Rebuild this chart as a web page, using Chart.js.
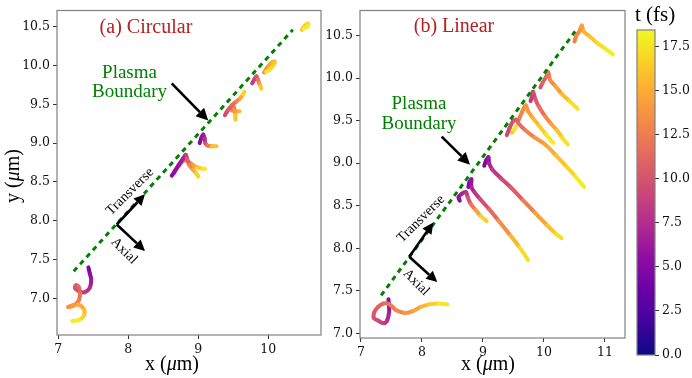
<!DOCTYPE html>
<html lang="en">
<head>
  <meta charset="UTF-8" />
  <title>Electron trajectories at the plasma boundary</title>
  <script src="https://cdn.jsdelivr.net/npm/chart.js"></script>
  <style>
    html, body { margin: 0; padding: 0; background: #fff; }
    #wrap { position: relative; width: 692px; height: 378px; }
    #wrap canvas { position: absolute; left: 0; top: 0; }
  </style>
</head>
<body>
<div id="wrap">
  <canvas id="circChart" width="692" height="378"></canvas>
  <canvas id="linChart" width="692" height="378"></canvas>
  <canvas id="cbarChart" width="692" height="378"></canvas>
</div>

<script>
  // ---- data: each trajectory is a list of [x (um), y (um), t (fs)] ----

  // (a) circular polarisation
  const circ1 = [[7.43,7.40,4.5],[7.45,7.32,5],[7.47,7.24,6],[7.45,7.14,7],[7.38,7.08,8],[7.30,7.09,9],
                 [7.24,7.13,9.8],[7.25,7.17,10.3],[7.29,7.15,10.8],[7.31,7.06,11.5],[7.29,6.97,12.5],[7.22,6.91,13],
                 [7.14,6.89,13.5],[7.20,6.91,14],[7.29,6.92,14.5],[7.37,6.85,15.5],[7.36,6.77,16.5],[7.29,6.72,17.5],[7.20,6.71,18.3]];
  const circ2a = [[8.62,8.58,5],[8.66,8.63,5.5],[8.72,8.72,6],[8.78,8.80,6.5],[8.82,8.85,7.5],[8.84,8.80,9.5],
                  [8.87,8.72,12],[8.92,8.66,14],[8.97,8.61,16],[9.00,8.57,18]];
  const circ2b = [[8.66,8.64,9],[8.73,8.72,10],[8.80,8.78,11],[8.86,8.76,12.5],[8.92,8.72,14],[8.98,8.69,15.5],
                  [9.06,8.67,17.5],[9.10,8.67,18.3]];
  const circ3 = [[9.02,9.00,5],[9.04,9.06,5.5],[9.07,9.11,6],[9.09,9.06,7],[9.10,9.00,8.5],[9.13,8.97,11],
                 [9.19,8.96,14],[9.26,8.96,18]];
  const circ4a = [[9.38,9.36,9],[9.42,9.42,10],[9.48,9.49,11],[9.55,9.54,12.5],[9.60,9.58,14],[9.64,9.63,16],[9.66,9.66,18]];
  const circ4b = [[9.45,9.45,11],[9.50,9.48,12],[9.52,9.42,13.5],[9.53,9.36,15],[9.53,9.30,17.5]];
  const circ4c = [[9.48,9.42,12],[9.53,9.41,14],[9.59,9.41,17]];
  const circ5 = [[9.77,9.77,8],[9.80,9.82,8.5],[9.83,9.86,9.5],[9.85,9.82,11],[9.87,9.77,13],[9.89,9.73,15.5],[9.90,9.70,17.5]];
  const circ6 = [[9.94,9.91,13],[9.99,9.98,14],[10.05,10.04,15],[10.09,10.05,15.5],[10.07,10.00,16.5],[10.01,9.94,17.3],[9.97,9.92,18]];
  const circ7 = [[10.48,10.46,15],[10.52,10.51,16],[10.57,10.54,17],[10.56,10.50,17.8],[10.50,10.47,18.3]];

  // (b) linear polarisation
  const lin1 = [[7.45,7.40,5],[7.46,7.32,5.5],[7.46,7.24,6.5],[7.42,7.14,7.5],[7.36,7.12,8.5],[7.28,7.15,9.2],
                [7.21,7.18,9.8],[7.22,7.25,10.3],[7.28,7.31,10.8],[7.37,7.35,11.3],[7.47,7.34,12],[7.58,7.27,12.8],
                [7.72,7.24,13.5],[7.85,7.26,14.3],[7.98,7.31,15],[8.12,7.34,16],[8.26,7.35,17],[8.42,7.34,18.3]];
  const lin2a = [[8.62,8.56,5],[8.60,8.60,5.5],[8.65,8.64,6.5],[8.72,8.66,7.5],[8.75,8.60,9],[8.80,8.52,11],
                 [8.88,8.45,13.5],[8.96,8.38,15.5],[9.06,8.32,18]];
  const lin2b = [[8.76,8.72,4.5],[8.78,8.78,5],[8.81,8.81,5.5],[8.81,8.72,6.5],[8.86,8.66,7.5],[8.95,8.58,9],
                 [9.10,8.46,10.5],[9.25,8.33,12.5],[9.45,8.15,14.5],[9.60,8.01,16.5],[9.74,7.86,18.2]];
  const lin3 = [[9.02,8.97,4.5],[9.05,9.03,5],[9.09,9.07,5.5],[9.10,9.00,6.5],[9.15,8.93,7.5],[9.30,8.82,9],
                [9.45,8.72,10],[9.65,8.57,11.5],[9.85,8.42,13.5],[10.05,8.27,15.5],[10.18,8.18,16.5],[10.29,8.12,18]];
  const lin4a = [[9.39,9.33,9],[9.44,9.42,9.5],[9.50,9.50,10],[9.55,9.51,10.5],[9.58,9.47,11],[9.69,9.39,12],
                 [9.85,9.30,13.5],[10.02,9.22,14.5],[10.20,9.09,15.5],[10.37,8.96,16.5],[10.52,8.84,17.4],[10.66,8.72,18.3]];
  const lin4b = [[9.58,9.50,12.5],[9.64,9.60,13],[9.70,9.68,13.5],[9.74,9.61,14],[9.82,9.53,15],[9.91,9.45,16],
                 [10.03,9.34,17.2],[10.15,9.24,18.3]];
  const lin4c = [[9.47,9.36,16],[9.51,9.39,17],[9.54,9.43,18]];
  const lin5 = [[9.78,9.73,8],[9.80,9.78,8.5],[9.82,9.84,9],[9.86,9.75,10],[9.92,9.66,11],[10.02,9.55,12.5],
                [10.12,9.46,14],[10.21,9.39,15.5],[10.30,9.30,17],[10.39,9.22,18.3]];
  const lin6 = [[9.94,9.89,10],[9.98,9.95,10.5],[10.04,10.02,11.5],[10.07,10.07,12],[10.10,9.98,12.8],[10.18,9.91,13.8],
                [10.30,9.81,15.2],[10.42,9.73,16.5],[10.55,9.64,18.3]];
  const lin7 = [[10.50,10.43,12.5],[10.53,10.50,13],[10.58,10.55,13.5],[10.62,10.62,14],[10.65,10.55,14.8],
                [10.75,10.49,15.8],[10.86,10.42,16.7],[11.00,10.35,17.5],[11.13,10.28,18.3]];

  // plasma boundary (dashed) end points
  const boundaryCirc = [[7.22,7.35],[10.35,10.46]];
  const boundaryLin = [[7.33,7.445],[10.51,10.55]];

  // ticks
  const circXTicks = [7, 8, 9, 10];
  const linXTicks = [7, 8, 9, 10, 11];
  const yTicks = [7.0, 7.5, 8.0, 8.5, 9.0, 9.5, 10.0, 10.5];
  const cbarTicks = [0, 2.5, 5, 7.5, 10, 12.5, 15, 17.5];
  const tMax = 18.45;

  // ---- colour map ----
  const plasmaStops = ['#0d0887','#41049d','#6a00a8','#8f0da4','#b12a90','#cc4778',
                       '#e16462','#f2844b','#fca636','#fcce25','#f0f921'];
  function hexRgb(h) {
    return [parseInt(h.slice(1,3),16), parseInt(h.slice(3,5),16), parseInt(h.slice(5,7),16)];
  }
  function plasma(v) {
    v = Math.min(1, Math.max(0, v));
    const f = v * 10, i = Math.min(9, Math.floor(f)), r = f - i;
    const a = hexRgb(plasmaStops[i]), b = hexRgb(plasmaStops[i + 1]);
    const c = a.map((ch, k) => Math.round(ch + (b[k] - ch) * r));
    return 'rgb(' + c.join(',') + ')';
  }

  function trajSet(pts) {
    return {
      data: pts.map(p => ({ x: p[0], y: p[1] })),
      showLine: true,
      pointRadius: 0,
      borderWidth: 4,
      tension: 0.35,
      borderCapStyle: 'round',
      borderJoinStyle: 'round',
      borderColor: plasma(pts[0][2] / tMax),
      segment: {
        borderColor: ctx => plasma((pts[ctx.p0DataIndex][2] + pts[ctx.p1DataIndex][2]) / 2 / tMax)
      }
    };
  }

  function boundarySet(pts) {
    return {
      data: pts.map(p => ({ x: p[0], y: p[1] })),
      showLine: true,
      pointRadius: 0,
      borderWidth: 3,
      borderColor: '#008000',
      borderDash: [5, 4.5],
      tension: 0
    };
  }

  const tickFont = { family: 'DejaVu Serif', size: 12.5 };
  const serif = '"Liberation Serif", "Times New Roman", serif';

  function fixedTicks(list, fmt) {
    return {
      afterBuildTicks: s => { s.ticks = list.map(v => ({ value: v })); },
      ticks: { font: tickFont, color: '#111', padding: 3, callback: v => fmt(v) },
      grid: { drawOnChartArea: false, drawTicks: true, tickLength: 4, color: '#333' },
      border: { display: false }
    };
  }

  function arrow(ctx, x0, y0, x1, y1, head, half) {
    const ang = Math.atan2(y1 - y0, x1 - x0);
    const bx = x1 - head * Math.cos(ang), by = y1 - head * Math.sin(ang);
    ctx.beginPath();
    ctx.moveTo(x0, y0);
    ctx.lineTo(bx, by);
    ctx.stroke();
    ctx.beginPath();
    ctx.moveTo(x1, y1);
    ctx.lineTo(bx + half * Math.sin(ang), by - half * Math.cos(ang));
    ctx.lineTo(bx - half * Math.sin(ang), by + half * Math.cos(ang));
    ctx.closePath();
    ctx.fill();
  }

  // text with an italic mu in the middle, centred at (cx, cy)
  function muLabel(ctx, pre, post, cx, cy, size, rot) {
    const up = size + 'px ' + serif, it = 'italic ' + size + 'px ' + serif;
    ctx.save();
    ctx.translate(cx, cy);
    ctx.rotate(rot || 0);
    ctx.textBaseline = 'middle';
    ctx.textAlign = 'left';
    ctx.font = up; const w1 = ctx.measureText(pre).width, w3 = ctx.measureText(post).width;
    ctx.font = it; const w2 = ctx.measureText('\u03bc').width;
    let x = -(w1 + w2 + w3) / 2;
    ctx.fillStyle = '#000';
    ctx.font = up; ctx.fillText(pre, x, 0); x += w1;
    ctx.font = it; ctx.fillText('\u03bc', x, 0); x += w2;
    ctx.font = up; ctx.fillText(post, x, 0);
    ctx.restore();
  }

  function notesPlugin(n) {
    return {
      id: 'notes',
      afterDatasetsDraw(chart) {
        const { ctx, chartArea: a, scales: { x, y } } = chart;
        const X = v => x.getPixelForValue(v), Y = v => y.getPixelForValue(v);
        ctx.save();
        // axes frame
        ctx.strokeStyle = '#808080';
        ctx.lineWidth = 1.2;
        ctx.strokeRect(a.left, a.top, a.right - a.left, a.bottom - a.top);

        ctx.textAlign = 'center';
        ctx.textBaseline = 'middle';
        ctx.fillStyle = '#b22222';
        ctx.font = '20px ' + serif;
        ctx.fillText(n.title, X(n.titleAt[0]), Y(n.titleAt[1]));

        ctx.fillStyle = '#008000';
        ctx.font = '19px ' + serif;
        ctx.fillText('Plasma', X(n.plasmaAt[0]), Y(n.plasmaAt[1]));
        ctx.fillText('Boundary', X(n.boundaryAt[0]), Y(n.boundaryAt[1]));

        ctx.strokeStyle = '#000';
        ctx.fillStyle = '#000';
        ctx.lineWidth = 2.6;
        arrow(ctx, X(n.bigArrow[0]), Y(n.bigArrow[1]), X(n.bigArrow[2]), Y(n.bigArrow[3]), 12, 6);
        arrow(ctx, X(n.origin[0]), Y(n.origin[1]), X(n.transTip[0]), Y(n.transTip[1]), 11, 5.5);
        arrow(ctx, X(n.origin[0]), Y(n.origin[1]), X(n.axialTip[0]), Y(n.axialTip[1]), 11, 5.5);

        ctx.font = '14px ' + serif;
        ctx.save();
        ctx.translate(X(n.transAt[0]), Y(n.transAt[1]));
        ctx.rotate(-Math.PI / 4);
        ctx.fillText('Transverse', 0, 0);
        ctx.restore();
        ctx.save();
        ctx.translate(X(n.axialAt[0]), Y(n.axialAt[1]));
        ctx.rotate(Math.PI / 4);
        ctx.fillText('Axial', 0, 0);
        ctx.restore();

        muLabel(ctx, 'x (', 'm)', n.xLabelX, 365, 20, 0);
        if (n.yLabel) muLabel(ctx, 'y (', 'm)', 14, 176, 20, -Math.PI / 2);
        ctx.restore();
      }
    };
  }

  function panel(id, sets, xr, yr, xTicks, pad, yW, xH, notes) {
    const xs = fixedTicks(xTicks, v => String(v));
    const ys = fixedTicks(yTicks, v => v.toFixed(1));
    ys.afterFit = s => { s.width = yW; };
    xs.afterFit = s => { s.height = xH; };
    new Chart(document.getElementById(id).getContext('2d'), {
      type: 'scatter',
      data: { datasets: sets },
      options: {
        responsive: false,
        animation: false,
        layout: { padding: pad },
        plugins: { legend: { display: false }, tooltip: { enabled: false } },
        scales: {
          x: Object.assign({ type: 'linear', min: xr[0], max: xr[1] }, xs),
          y: Object.assign({ type: 'linear', min: yr[0], max: yr[1] }, ys)
        }
      },
      plugins: [notesPlugin(notes)]
    });
  }

  panel('circChart',
    [boundarySet(boundaryCirc)].concat([circ1, circ2a, circ2b, circ3, circ4a, circ4b, circ4c, circ5, circ6, circ7].map(trajSet)),
    [6.981, 10.753], [6.529, 10.708], circXTicks,
    { left: 0, top: 7, right: 371, bottom: 0 }, 57, 43,
    {
      title: '(a) Circular', titleAt: [8.252, 10.491],
      plasmaAt: [8.017, 9.905], boundaryAt: [8.017, 9.663],
      bigArrow: [8.620, 9.769, 9.142, 9.290],
      origin: [7.834, 7.952], transTip: [8.238, 8.342], axialTip: [8.238, 7.612],
      transAt: [8.024, 8.376], axialAt: [7.938, 7.612],
      xLabelX: 172, yLabel: true
    });

  panel('linChart',
    [boundarySet(boundaryLin)].concat([lin1, lin2a, lin2b, lin3, lin4a, lin4b, lin4c, lin5, lin6, lin7].map(trajSet)),
    [6.984, 11.328], [6.945, 10.795], linXTicks,
    { left: 0, top: 8, right: 67, bottom: 0 }, 360, 40,
    {
      title: '(b) Linear', titleAt: [8.525, 10.608],
      plasmaAt: [7.951, 9.698], boundaryAt: [7.951, 9.465],
      bigArrow: [8.323, 9.313, 8.787, 8.983],
      origin: [7.792, 7.901], transTip: [8.186, 8.302], axialTip: [8.251, 7.602],
      transAt: [7.984, 8.345], axialAt: [7.902, 7.598],
      xLabelX: 488, yLabel: false
    });

  // colour bar
  const cbarY = fixedTicks(cbarTicks, v => v.toFixed(1));
  cbarY.afterFit = s => { s.width = 37; };
  new Chart(document.getElementById('cbarChart').getContext('2d'), {
    type: 'scatter',
    data: { datasets: [] },
    options: {
      responsive: false,
      animation: false,
      layout: { padding: { left: 637, top: 30, right: 0, bottom: 23 } },
      plugins: { legend: { display: false }, tooltip: { enabled: false } },
      scales: {
        x: { type: 'linear', min: 0, max: 1, display: false },
        y: Object.assign({ type: 'linear', position: 'right', min: 0, max: tMax }, cbarY)
      }
    },
    plugins: [{
      id: 'cbarFill',
      beforeDatasetsDraw(chart) {
        const { ctx, chartArea: a } = chart;
        const g = ctx.createLinearGradient(0, a.bottom, 0, a.top);
        plasmaStops.forEach((c, i) => g.addColorStop(i / 10, c));
        ctx.save();
        ctx.fillStyle = g;
        ctx.fillRect(a.left, a.top, a.right - a.left, a.bottom - a.top);
        ctx.strokeStyle = '#808080';
        ctx.lineWidth = 1.2;
        ctx.strokeRect(a.left, a.top, a.right - a.left, a.bottom - a.top);
        ctx.fillStyle = '#000';
        ctx.textAlign = 'center';
        ctx.textBaseline = 'middle';
        ctx.font = '21px ' + serif;
        ctx.fillText('t (fs)', 655, 15);
        ctx.restore();
      }
    }]
  });
</script>
</body>
</html>
